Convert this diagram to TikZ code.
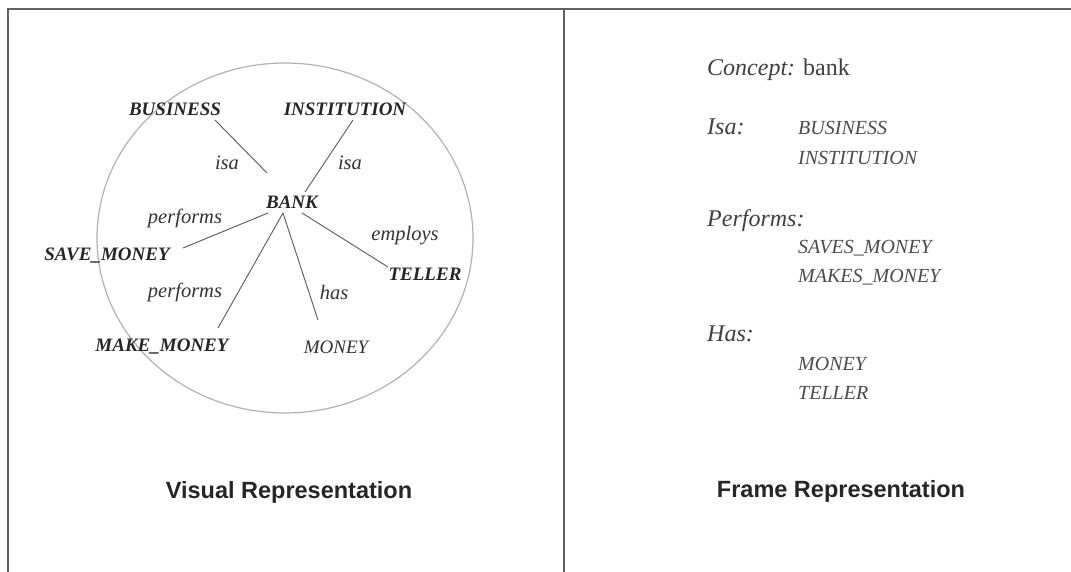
\documentclass[tikz,border=0pt]{standalone}
\usepackage{fontspec}
\setmainfont{Liberation Serif}
\newfontfamily\headfont{Liberation Sans}
\begin{document}
\begin{tikzpicture}[x=1pt,y=-1pt,
  frameline/.style={draw=black!62,line width=1.6pt},
  concept/.style={font=\fontsize{19}{22}\selectfont\bfseries\itshape,text=black!85,inner sep=1pt},
  plainconcept/.style={font=\fontsize{19}{22}\selectfont\itshape,text=black!80,inner sep=1pt},
  rel/.style={font=\fontsize{20.5}{23}\selectfont\itshape,text=black!80,inner sep=1pt},
  link/.style={draw=black!65,line width=0.9pt},
  slot/.style={font=\fontsize{24}{28}\selectfont\itshape,text=black!75,anchor=base west,inner sep=0pt},
  filler/.style={font=\fontsize{20}{23}\selectfont\itshape,text=black!70,anchor=base west,inner sep=0pt},
  caption/.style={font=\headfont\fontsize{23.5}{27}\selectfont\bfseries,text=black!85}]
\useasboundingbox (0,0) rectangle (1071,572);
\fill[white] (0,0) rectangle (1071,572);

% panel borders
\draw[frameline] (7,9) -- (1071,9);
\draw[frameline] (8,9) -- (8,572);
\draw[frameline] (564,9) -- (564,572);

% concept boundary
\draw[black!30,line width=1.2pt] (285,238) ellipse [x radius=188, y radius=175];

% semantic network
\node[concept] (bank) at (292,202) {BANK};
\node[concept] (business) at (175,109) {BUSINESS};
\node[concept] (institution) at (345,109) {INSTITUTION};
\node[concept] (save) at (107,256) {SAVE\_MONEY};
\node[concept] (teller) at (425,274) {TELLER};
\node[concept] (make) at (162,347) {MAKE\_MONEY};
\node[plainconcept] (money) at (336,347) {MONEY};

% link end points around the nodes
\coordinate (bb) at (267,173);
\coordinate (bi) at (305,192);
\coordinate (bs) at (268,213);
\coordinate (bt) at (302,213);
\coordinate (bm) at (283,213);
\coordinate (b1) at (215,120);
\coordinate (i1) at (353,120);
\coordinate (s1) at (183,248);
\coordinate (t1) at (388,267);
\coordinate (k1) at (218,328);
\coordinate (m1) at (318,320);

\draw[link] (b1) -- (bb);
\draw[link] (i1) -- (bi);
\draw[link] (bs) -- (s1);
\draw[link] (bt) -- (t1);
\draw[link] (bm) -- (k1);
\draw[link] (bm) -- (m1);

\node[rel] (isa1) at (227,163) {isa};
\node[rel] (isa2) at (350,163) {isa};
\node[rel] (perf1) at (185,218) {performs};
\node[rel] (emp) at (405,236) {employs};
\node[rel] (perf2) at (185,292) {performs};
\node[rel] (has) at (334,292) {has};

\node[caption] (vis) at (289,492) {Visual Representation};

% frame slots
\node[slot] (concept) at (707,76) {Concept:\/ \upshape bank};
\node[slot] (isa) at (707,135) {Isa:};
\node[filler] (f1) at (798,135) {BUSINESS};
\node[filler] (f2) at (798,165) {INSTITUTION};
\node[slot] (performs) at (707,226) {Performs:};
\node[filler] (f3) at (798,254) {SAVES\_MONEY};
\node[filler] (f4) at (798,283) {MAKES\_MONEY};
\node[slot] (hasslot) at (707,341) {Has:};
\node[filler] (f5) at (798,370) {MONEY};
\node[filler] (f6) at (798,399) {TELLER};

\node[caption] (frame) at (841,491) {Frame Representation};
\end{tikzpicture}
\end{document}
